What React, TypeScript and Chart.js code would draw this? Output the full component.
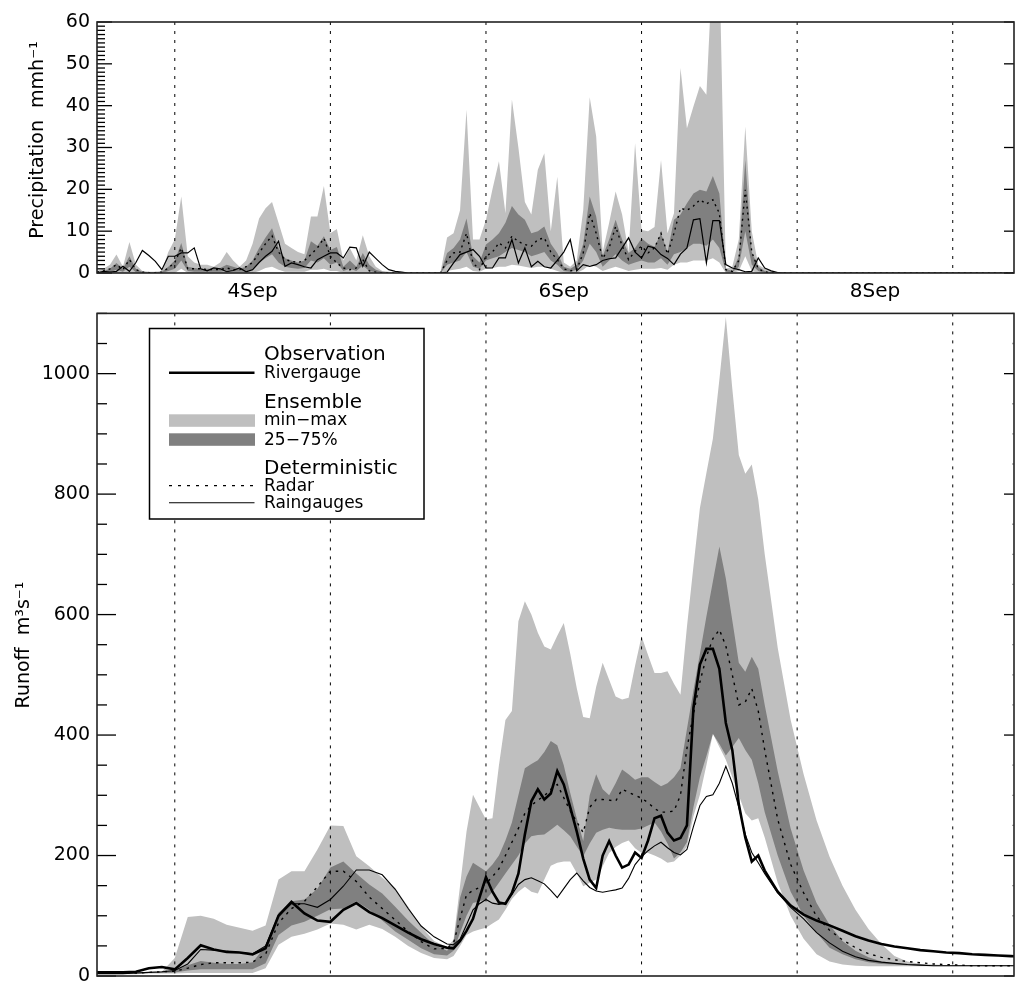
import React, { useEffect, useRef } from 'react';
import { Chart, registerables } from 'chart.js';

Chart.register(...registerables);

const FONT = "'DejaVu Sans', 'Liberation Sans', sans-serif";
const LIGHT = '#bfbfbf';
const DARK = '#808080';

// ---------- axis / label data ----------
const dayLineHours = [0, 24, 48, 72, 96, 120];
const dateLabelHours = [12, 60, 108];
const dateLabels = ['4Sep', '6Sep', '8Sep'];
const precipTickValues = [0, 10, 20, 30, 40, 50, 60];
const runoffTickValues = [0, 200, 400, 600, 800, 1000];

// ---------- precipitation (mm/h), hours relative to 4 Sep 00:00 ----------
const precipHours = [
  -12, -11, -10, -9, -8, -7, -6, -5, -4, -3, -2, -1,
  0, 1, 2, 3, 4, 5, 6, 7, 8, 9, 10, 11,
  12, 13, 14, 15, 16, 17, 18, 19, 20, 21, 22, 23,
  24, 25, 26, 27, 28, 29, 30, 31, 32, 33, 34, 35,
  36, 37, 38, 39, 40, 41, 42, 43, 44, 45, 46, 47,
  48, 49, 50, 51, 52, 53, 54, 55, 56, 57, 58, 59,
  60, 61, 62, 63, 64, 65, 66, 67, 68, 69, 70, 71,
  72, 73, 74, 75, 76, 77, 78, 79, 80, 81, 82, 83,
  84, 85, 86, 87, 88, 89, 90, 91, 92, 93, 94,
  130,
];
const precipMax = [
  0.5, 1, 2, 4.4, 1.5, 7.4, 2, 0.5, 0.3, 0.3, 0.5, 5,
  8, 18.3, 4, 2.5, 2, 2, 1.5, 2.5, 5, 3, 1.5, 3,
  7, 13, 15.5, 17, 12, 7, 6, 5, 4.5, 13.5, 13.5, 20.8,
  9.5, 10.5, 3, 6, 3, 9, 4, 1.5, 0.5, 0.3, 0.2, 0,
  0, 0, 0, 0, 0, 0.3, 8.5, 9.5, 15, 39, 8, 8,
  12.7, 20, 26.7, 14.3, 41.5, 30, 17, 14, 24.7, 28.6, 10, 23,
  2.5, 1.5, 3, 15, 42, 32.6, 5, 12, 19.5, 14, 5, 31,
  10.3, 10, 11, 27, 9.5, 14.3, 49, 34.6, 39.8, 44.7, 42.6, 75,
  75, 1, 1.5, 8, 35, 10, 2, 1, 0.5, 0, 0,
  0,
];
const precipQ75 = [
  0.3, 0.5, 1, 2.4, 1, 4, 1, 0.3, 0.2, 0.2, 0.3, 1.5,
  3, 7.2, 1.5, 1.2, 1, 1, 1, 1.2, 2, 1.5, 1, 1.5,
  3, 6, 8.5, 10.7, 6, 3.5, 3, 2.5, 3, 7.6, 6.5, 8.8,
  5.5, 6.2, 1.5, 3, 1.5, 4.8, 2, 0.8, 0.3, 0.2, 0, 0,
  0, 0, 0, 0, 0, 0.1, 4.8, 6, 8, 13, 4, 2.5,
  6.8, 8, 9.5, 12, 16, 14, 12.7, 9.5, 10, 11.1, 7, 4.8,
  1.5, 1, 2, 7, 18.3, 13.5, 4, 8, 12.7, 8, 4.8, 6,
  8.3, 7, 6.3, 9.5, 5, 12.7, 14, 16.7, 19, 19.9, 19.5, 23.2,
  19, 1, 0.5, 4, 27, 5, 1.5, 0.5, 0.2, 0, 0,
  0,
];
const precipQ25 = [
  0, 0, 0.2, 0.8, 0.3, 1.5, 0.2, 0, 0, 0, 0, 0.5,
  1, 3, 0.5, 0.3, 0.3, 0.3, 0.3, 0.3, 0.5, 0.3, 0.3, 0.3,
  1, 2.5, 3.5, 4.5, 2.5, 1.5, 1.2, 1, 1.2, 3, 2.5, 3.5,
  2, 2.5, 0.5, 1, 0.5, 1.8, 0.5, 0.2, 0, 0, 0, 0,
  0, 0, 0, 0, 0, 0, 2, 2.5, 3, 5, 1.5, 1,
  3, 3.5, 4, 5, 6, 5.5, 5, 4, 4.5, 5, 3, 2,
  0.5, 0.3, 0.8, 3, 7, 5, 1.5, 3, 4.5, 3, 2, 2.5,
  3, 2.5, 2.5, 3.5, 2, 4.5, 5, 6, 7, 7, 6.5, 8,
  6, 0.3, 0.2, 1.5, 10, 2, 0.5, 0, 0, 0, 0,
  0,
];
const precipMin = [
  0, 0, 0, 0, 0, 0, 0, 0, 0, 0, 0, 0,
  0, 1, 0, 0, 0, 0, 0, 0, 0, 0, 0, 0,
  0, 0.5, 1.2, 1.5, 0.8, 0.3, 0.3, 0.3, 0.3, 0.8, 0.8, 1,
  0.5, 0.5, 0, 0, 0, 0, 0, 0, 0, 0, 0, 0,
  0, 0, 0, 0, 0, 0, 0.5, 0.8, 1, 1.5, 0.5, 0.3,
  1, 1.2, 1.5, 1.5, 2, 1.8, 1.5, 1.2, 1.5, 1.5, 1, 0.5,
  0, 0, 0, 0.8, 2, 1.5, 0.5, 1, 1.5, 1, 0.5, 0.8,
  1, 1, 1, 1.2, 0.8, 2, 2.5, 2.5, 3, 3, 3, 3.5,
  2.5, 0, 0, 0.5, 4, 0.5, 0, 0, 0, 0, 0,
  0,
];
const precipRadar = [
  0.2, 0.5, 1, 2, 0.8, 3.2, 0.8, 0.2, 0.1, 0.1, 0.2, 1.2,
  2.5, 6, 1, 1, 1, 0.8, 0.8, 0.8, 1.2, 0.8, 0.8, 1.5,
  2.5, 4.8, 7, 8.9, 5, 3.2, 2.8, 2.5, 3, 4.4, 6, 8.3,
  4, 2.4, 1.2, 0.8, 1.2, 3.2, 0.5, 0.2, 0, 0, 0, 0,
  0, 0, 0, 0, 0, 0, 3, 4.8, 5, 9.5, 2.4, 0.8,
  4, 5, 7.2, 6, 8.8, 7.5, 6.8, 6.4, 8, 8.4, 5, 3.2,
  1, 0.5, 0.8, 4.8, 14.3, 9.5, 3.5, 6, 11.1, 6.5, 3.2, 5.2,
  6.4, 4.8, 6, 9.5, 4.5, 9.5, 15.5, 15, 16, 17.5, 16.5, 17.5,
  14.3, 0.8, 0.4, 3, 19.9, 5, 1, 0.3, 0, 0, 0,
  0,
];
const precipRaingauge = [
  0, 0.4, 0.2, 0.4, 1.6, 0.4, 2.5, 5.4, 4.2, 2.8, 0.8, 4,
  4, 4.8, 4.8, 6, 1, 0.5, 1.2, 1, 0.3, 0.6, 1.2, 0.3,
  0.8, 2.5, 4, 5.2, 7.6, 1.6, 2.4, 2, 1.5, 1.2, 3.2, 4,
  4.8, 4.8, 3.6, 6.2, 6, 1.6, 5, 3.5, 2, 0.8, 0.4, 0.2,
  0, 0, 0, 0, 0, 0, 0.2, 2.4, 4.4, 5, 5.6, 4,
  1.2, 1.2, 3.6, 3.6, 8, 2.4, 6, 1.5, 2.8, 1.5, 1.2, 3,
  5, 8, 0.5, 2, 1.6, 2, 3, 3.4, 3.6, 6, 8.4, 5,
  3.6, 6.4, 6, 4.4, 3.5, 2, 4.5, 6, 12.7, 13, 2.4, 12.5,
  12.5, 2, 1.2, 0.8, 0.3, 0.4, 3.6, 1.2, 0.5, 0.1, 0,
  0,
];

// ---------- runoff (m3/s) ----------
const runoffHours = [
  -12, -10, -8, -6, -4, -2, 0, 2, 4, 6, 8, 10, 12, 14, 16, 18, 20, 22, 24, 26, 28, 30, 32, 34, 36, 38, 40, 42,
  43, 44, 45, 46, 47, 48, 49, 50, 51, 52, 53, 54, 55, 56, 57, 58, 59, 60, 61, 62, 63, 64, 65, 66, 67,
  68, 69, 70, 71, 72, 73, 74, 75, 76, 77, 78, 79, 80, 81, 82, 83, 84, 85, 86, 87, 88, 89, 90, 91,
  93, 95, 97, 99, 101, 103, 105, 107, 109, 111, 113, 115, 117, 119, 121, 123, 125, 127, 129, 131,
];
const runoffObserved = [
  6, 6, 6, 7, 13, 15, 11, 30, 51, 44, 40, 39, 36, 46, 100, 123, 104, 92, 90, 110, 121, 106, 96, 84, 72, 61, 53, 47,
  46, 58, 75, 95, 130, 164, 140, 122, 120, 138, 170, 235, 290, 310, 293, 303, 340, 318, 280, 240, 195, 160, 146, 200, 224,
  200, 180, 185, 205, 196, 225, 262, 266, 238, 225, 229, 250, 445, 517, 543, 543, 510, 420, 375, 285, 230, 190, 200, 175,
  140, 117, 102, 92, 84, 75, 66, 59, 53, 49, 46, 43, 41, 39, 38, 36, 35, 34, 33, 32,
];
const runoffRaingauge = [
  4, 4, 4, 5, 6, 7, 9, 20, 44, 43, 41, 39, 37, 50, 100, 120, 120, 114, 127, 149, 176, 176, 168, 144, 112, 83, 65, 53,
  52, 61, 85, 110, 120, 127, 121, 119, 121, 135, 152, 160, 163, 158, 153, 142, 130, 145, 160, 171, 158, 147, 141, 139, 141,
  143, 146, 162, 185, 198, 208, 216, 222, 213, 205, 201, 210, 248, 283, 298, 301, 320, 348, 320, 280, 235, 205, 188, 170,
  138, 114, 95, 72, 55, 41, 32, 26, 23, 21, 19, 18, 17, 17, 17, 17, 17, 17, 17, 17,
];
const runoffRadar = [
  5, 5, 5, 5, 6, 7, 8, 13, 19, 22, 22, 22, 23, 36, 88, 112, 124, 148, 174, 174, 157, 131, 112, 93, 74, 57, 45, 46,
  55, 95, 135, 142, 147, 153, 165, 178, 200, 222, 245, 270, 283, 292, 299, 310, 318, 296, 274, 256, 238, 280, 293, 293, 292,
  290, 310, 305, 300, 295, 288, 278, 272, 272, 274, 300, 378, 435, 488, 530, 560, 575, 548, 500, 450, 455, 477, 440, 375,
  260, 185, 138, 99, 76, 60, 47, 37, 31, 27, 24, 22, 20, 19, 18, 17, 17, 17, 17, 17,
];
const runoffMax = [
  6, 6, 6, 6, 6, 7, 30, 98, 100, 95, 85, 80, 75, 84, 160, 174, 174, 210, 250, 249, 199, 182, 163, 146, 115, 82, 58, 48,
  60, 150, 240, 301, 280, 260, 262, 350, 425, 440, 589, 622, 600, 570, 547, 542, 565, 586, 535, 478, 430, 428, 480, 520, 492,
  464, 459, 462, 515, 564, 533, 503, 503, 506, 485, 467, 580, 680, 777, 835, 892, 990, 1094, 975, 865, 834, 849, 791, 700,
  545, 425, 335, 258, 198, 150, 110, 78, 53, 33, 24, 20, 19, 18, 18, 18, 18, 18, 18, 18,
];
const runoffQ75 = [
  6, 6, 6, 6, 6, 7, 9, 18, 25, 22, 20, 20, 23, 50, 105, 124, 127, 145, 180, 190, 170, 152, 137, 115, 92, 72, 52, 42,
  55, 130, 165, 188, 181, 174, 185, 200, 225, 255, 300, 345, 352, 358, 372, 390, 383, 350, 304, 262, 224, 300, 335, 310, 300,
  320, 343, 335, 326, 330, 330, 322, 315, 320, 330, 345, 410, 474, 535, 597, 655, 713, 660, 590, 520, 505, 530, 510, 450,
  340, 245, 175, 121, 85, 58, 42, 31, 24, 21, 20, 19, 18, 18, 17.5, 17.5, 17.5, 17.5, 17.5, 17.5,
];
const runoffQ25 = [
  4, 4, 4, 4, 5, 5, 6, 9, 11, 11, 11, 11, 11, 21, 68, 84, 90, 100, 111, 112, 124, 110, 92, 74, 60, 46, 36, 34,
  42, 72, 100, 121, 124, 127, 140, 155, 170, 185, 200, 220, 232, 234, 235, 243, 251, 242, 232, 215, 199, 220, 238, 243, 246,
  244, 243, 243, 243, 245, 250, 255, 240, 220, 195, 205, 222, 280, 330, 365, 402, 385, 366, 380, 395, 375, 359, 320, 272,
  200, 140, 100, 72, 47, 36, 28, 23, 20, 19, 18, 17, 17, 16.5, 16.5, 16.5, 16.5, 16.5, 16.5, 16.5,
];
const runoffMin = [
  3, 3, 3, 3, 4, 4, 4, 5, 5, 5, 5, 5, 5, 13, 52, 65, 70, 77, 87, 85, 77, 85, 78, 65, 50, 38, 30, 28,
  33, 50, 68, 74, 77, 80, 87, 94, 110, 128, 140, 148, 140, 137, 160, 183, 188, 190, 190, 171, 149, 155, 160, 182, 204,
  214, 221, 225, 212, 204, 204, 200, 195, 188, 190, 200, 215, 265, 301, 350, 402, 380, 359, 330, 300, 270, 258, 262, 230,
  155, 100, 62, 36, 24, 19, 17, 16, 16, 16, 16, 16, 16, 16, 16, 16, 16, 16, 16, 16,
];

const X_MIN = -12;
const X_MAX = 129.45;

const pts = (hours: number[], vals: number[]) => hours.map((h, i) => ({ x: h, y: vals[i] }));

const lineDs = (label: string, data: any[], width: number, dash: number[] = []) => ({
  label,
  data,
  borderColor: '#000',
  borderWidth: width,
  borderDash: dash,
  fill: false,
  pointRadius: 0,
  tension: 0,
});
const bandDs = (label: string, data: any[], target: number | false, color: string) => ({
  label,
  data,
  borderColor: 'rgba(0,0,0,0)',
  borderWidth: 0,
  backgroundColor: color,
  fill: target === false ? false : target,
  pointRadius: 0,
  tension: 0,
});

type FrameCfg = {
  minorStep: number;
  majorStep: number;
  majorL: number;
  minorL: number;
  majorR: number;
  minorR: number;
};

function framePlugin(id: string, cfg: FrameCfg) {
  return {
    id,
    afterDatasetsDraw(chart: any) {
      const { ctx, chartArea: a, scales } = chart;
      const xs = scales.x;
      const ys = scales.y;
      // day separators
      ctx.save();
      ctx.beginPath();
      ctx.rect(a.left, a.top, a.right - a.left, a.bottom - a.top);
      ctx.clip();
      ctx.strokeStyle = '#000';
      ctx.lineWidth = 1;
      ctx.setLineDash([3, 6]);
      for (const h of dayLineHours) {
        const px = xs.getPixelForValue(h);
        ctx.beginPath();
        ctx.moveTo(px, a.top);
        ctx.lineTo(px, a.bottom);
        ctx.stroke();
      }
      ctx.restore();
      // y ticks (inside, both sides)
      ctx.save();
      ctx.lineWidth = 1.3;
      const n = Math.round((ys.max - ys.min) / cfg.minorStep);
      for (let i = 0; i <= n; i++) {
        const v = ys.min + i * cfg.minorStep;
        const py = ys.getPixelForValue(v);
        const r = v / cfg.majorStep;
        const major = Math.abs(r - Math.round(r)) < 1e-6;
        const lenL = major ? cfg.majorL : cfg.minorL;
        const lenR = major ? cfg.majorR : cfg.minorR;
        ctx.strokeStyle = '#000';
        ctx.beginPath();
        ctx.moveTo(a.left, py);
        ctx.lineTo(a.left + lenL, py);
        ctx.stroke();
        if (lenR > 0) {
          ctx.strokeStyle = major ? '#000' : '#aaa';
          ctx.beginPath();
          ctx.moveTo(a.right, py);
          ctx.lineTo(a.right - lenR, py);
          ctx.stroke();
        }
      }
      ctx.restore();
      // frame
      ctx.save();
      ctx.strokeStyle = '#222';
      ctx.lineWidth = 1.6;
      ctx.strokeRect(a.left, a.top, a.right - a.left, a.bottom - a.top);
      ctx.restore();
    },
  };
}

function titlePlugin(id: string, text: string, cx: number, cy: number, size: number) {
  return {
    id,
    afterDraw(chart: any) {
      const ctx = chart.ctx;
      ctx.save();
      ctx.translate(cx, cy);
      ctx.rotate(-Math.PI / 2);
      ctx.fillStyle = '#000';
      ctx.font = `${size}px ${FONT}`;
      ctx.textAlign = 'center';
      ctx.textBaseline = 'alphabetic';
      ctx.fillText(text, 0, 0);
      ctx.restore();
    },
  };
}

const BOTTOM_TOP = 295;

const legendPlugin = {
  id: 'runoffLegend',
  afterDraw(chart: any) {
    const ctx = chart.ctx;
    const oy = BOTTOM_TOP;
    ctx.save();
    ctx.fillStyle = '#fff';
    ctx.fillRect(149.5, 328.5 - oy, 274.5, 190.5);
    ctx.strokeStyle = '#000';
    ctx.lineWidth = 1.5;
    ctx.strokeRect(149.5, 328.5 - oy, 274.5, 190.5);
    const tx = 264;
    const big = `20px ${FONT}`;
    const small = `17px ${FONT}`;
    ctx.fillStyle = '#000';
    ctx.textAlign = 'left';
    ctx.textBaseline = 'alphabetic';
    ctx.font = big;
    ctx.fillText('Observation', tx, 359.5 - oy);
    ctx.font = small;
    ctx.fillText('Rivergauge', tx, 377.5 - oy);
    ctx.font = big;
    ctx.fillText('Ensemble', tx, 407.5 - oy);
    ctx.font = small;
    ctx.fillText('min\u2212max', tx, 425 - oy);
    ctx.fillText('25\u221275%', tx, 444.5 - oy);
    ctx.font = big;
    ctx.fillText('Deterministic', tx, 473.5 - oy);
    ctx.font = small;
    ctx.fillText('Radar', tx, 491 - oy);
    ctx.fillText('Raingauges', tx, 508 - oy);

    // samples
    ctx.strokeStyle = '#000';
    ctx.lineWidth = 2.6;
    ctx.beginPath();
    ctx.moveTo(169, 372.7 - oy);
    ctx.lineTo(254.5, 372.7 - oy);
    ctx.stroke();
    ctx.fillStyle = LIGHT;
    ctx.fillRect(169, 414.3 - oy, 86, 12.5);
    ctx.fillStyle = DARK;
    ctx.fillRect(169, 433.3 - oy, 86, 12.5);
    ctx.lineWidth = 1.3;
    ctx.setLineDash([3, 6]);
    ctx.beginPath();
    ctx.moveTo(169, 485.7 - oy);
    ctx.lineTo(254.5, 485.7 - oy);
    ctx.stroke();
    ctx.setLineDash([]);
    ctx.lineWidth = 1.1;
    ctx.beginPath();
    ctx.moveTo(169, 502.7 - oy);
    ctx.lineTo(254.5, 502.7 - oy);
    ctx.stroke();
    ctx.restore();
  },
};

const tickFont = { family: FONT, size: 19 };
const plainLabel = (v: any) => String(v);

export default function App() {
  const topRef = useRef<HTMLCanvasElement>(null);
  const botRef = useRef<HTMLCanvasElement>(null);

  useEffect(() => {
    const top = new Chart(topRef.current as HTMLCanvasElement, {
      type: 'line',
      data: {
        datasets: [
          lineDs('Raingauges', pts(precipHours, precipRaingauge), 1.2),
          lineDs('Radar', pts(precipHours, precipRadar), 1.4, [2, 4]),
          bandDs('25-75%', pts(precipHours, precipQ75), 3, DARK),
          bandDs('25%', pts(precipHours, precipQ25), false, DARK),
          bandDs('min-max', pts(precipHours, precipMax), 5, LIGHT),
          bandDs('min', pts(precipHours, precipMin), false, LIGHT),
        ] as any,
      },
      options: {
        animation: false,
        responsive: false,
        maintainAspectRatio: false,
        devicePixelRatio: 1,
        layout: { padding: { left: 0, right: 1, top: 22, bottom: 0 }, autoPadding: false } as any,
        plugins: {
          legend: { display: false },
          tooltip: { enabled: false },
          filler: { propagate: false, drawTime: 'beforeDatasetDraw' } as any,
        },
        scales: {
          x: {
            type: 'linear',
            min: X_MIN,
            max: X_MAX,
            grid: { display: false, drawTicks: false },
            border: { display: false },
            afterBuildTicks: (s: any) => {
              s.ticks = dateLabelHours.map((v) => ({ value: v }));
            },
            afterFit: (s: any) => {
              s.height = 32;
            },
            ticks: {
              autoSkip: false,
              maxRotation: 0,
              padding: 7,
              color: '#000',
              font: { family: FONT, size: 20 },
              callback: (v: any) => dateLabels[dateLabelHours.indexOf(Number(v))] ?? '',
            },
          },
          y: {
            type: 'linear',
            min: 0,
            max: 60,
            grid: { display: false, drawTicks: false },
            border: { display: false },
            afterBuildTicks: (s: any) => {
              s.ticks = precipTickValues.map((v) => ({ value: v }));
            },
            afterFit: (s: any) => {
              s.width = 97;
            },
            ticks: { padding: 7, color: '#000', font: tickFont, callback: plainLabel },
          },
        },
      } as any,
      plugins: [
        framePlugin('precipFrame', { minorStep: 1, majorStep: 10, majorL: 15, minorL: 8, majorR: 10, minorR: 0 }),
        titlePlugin('precipTitle', 'Precipitation  mmh\u207B\u00B9', 43, 140, 19),
      ],
    });

    const bottom = new Chart(botRef.current as HTMLCanvasElement, {
      type: 'line',
      data: {
        datasets: [
          lineDs('Rivergauge', pts(runoffHours, runoffObserved), 2.6),
          lineDs('Raingauges', pts(runoffHours, runoffRaingauge), 1.1),
          lineDs('Radar', pts(runoffHours, runoffRadar), 1.4, [2.5, 5]),
          bandDs('25-75%', pts(runoffHours, runoffQ75), 4, DARK),
          bandDs('25%', pts(runoffHours, runoffQ25), false, DARK),
          bandDs('min-max', pts(runoffHours, runoffMax), 6, LIGHT),
          bandDs('min', pts(runoffHours, runoffMin), false, LIGHT),
        ] as any,
      },
      options: {
        animation: false,
        responsive: false,
        maintainAspectRatio: false,
        devicePixelRatio: 1,
        layout: { padding: { left: 0, right: 1, top: 18, bottom: 0 }, autoPadding: false } as any,
        plugins: {
          legend: { display: false },
          tooltip: { enabled: false },
          filler: { propagate: false, drawTime: 'beforeDatasetDraw' } as any,
        },
        scales: {
          x: {
            type: 'linear',
            min: X_MIN,
            max: X_MAX,
            grid: { display: false, drawTicks: false },
            border: { display: false },
            ticks: { display: false },
            afterFit: (s: any) => {
              s.height = 30;
            },
          },
          y: {
            type: 'linear',
            min: 0,
            max: 1100,
            grid: { display: false, drawTicks: false },
            border: { display: false },
            afterBuildTicks: (s: any) => {
              s.ticks = runoffTickValues.map((v) => ({ value: v }));
            },
            afterFit: (s: any) => {
              s.width = 97;
            },
            ticks: { padding: 7, color: '#000', font: tickFont, callback: plainLabel },
          },
        },
      } as any,
      plugins: [
        framePlugin('runoffFrame', { minorStep: 50, majorStep: 200, majorL: 19, minorL: 10, majorR: 10, minorR: 2 }),
        titlePlugin('runoffTitle', 'Runoff  m\u00B3s\u207B\u00B9', 29, 645 - BOTTOM_TOP, 19),
        legendPlugin,
      ],
    });

    return () => {
      top.destroy();
      bottom.destroy();
    };
  }, []);

  return (
    <div
      style={{
        position: 'fixed',
        left: 0,
        top: 0,
        width: 1015,
        height: 981,
        overflow: 'hidden',
        background: '#fff',
      }}
    >
      <canvas
        ref={topRef}
        width={1015}
        height={305}
        style={{ position: 'absolute', left: 0, top: 0, width: 1015, height: 305 }}
      />
      <canvas
        ref={botRef}
        width={1015}
        height={711}
        style={{ position: 'absolute', left: 0, top: BOTTOM_TOP, width: 1015, height: 711 }}
      />
    </div>
  );
}
